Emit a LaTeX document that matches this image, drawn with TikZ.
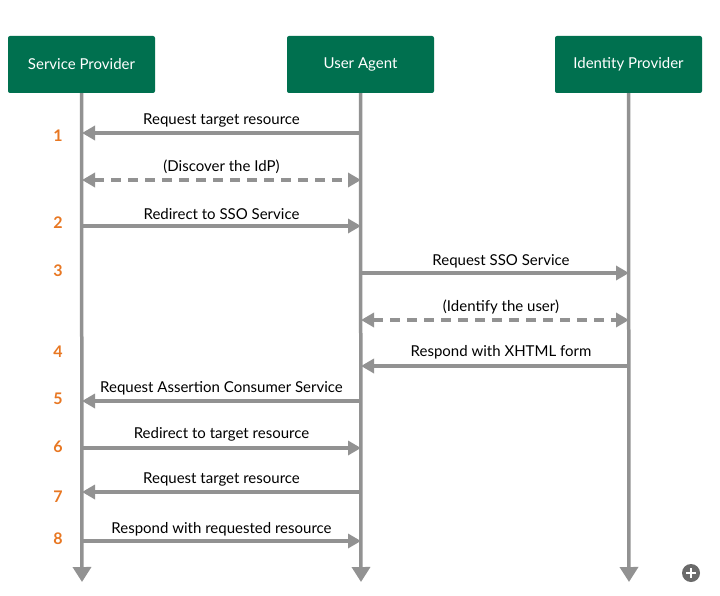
\documentclass[tikz,border=0pt]{standalone}
\usepackage{fontspec}
\setmainfont{Lato}
\usetikzlibrary{arrows.meta}
\definecolor{hdrgreen}{HTML}{00704F}
\definecolor{lifegray}{HTML}{929292}
\definecolor{numorange}{HTML}{E87722}
\definecolor{plusgray}{HTML}{6A6A6A}
\begin{document}
\begin{tikzpicture}[x=1pt,y=-1pt,
  hdr/.style={draw=none,fill=hdrgreen,rounded corners=2pt,minimum width=147pt,minimum height=57pt,text=white,font=\fontsize{15}{17}\selectfont,inner sep=0pt},
  life/.style={draw=lifegray,line width=3.5pt,-{Triangle[length=15pt,width=18pt]}},
  msg/.style={draw=lifegray,line width=3.5pt,-{Triangle[length=13pt,width=14pt]}},
  dmsg/.style={draw=lifegray,line width=3.5pt,{Triangle[length=13pt,width=14pt]}-{Triangle[length=13pt,width=14pt]},dash pattern=on 10pt off 7pt},
  lbl/.style={font=\fontsize{15}{17}\selectfont,text=black,inner sep=0pt},
  rlbl/.style={lbl,xshift=6pt},
  num/.style={font=\bfseries\fontsize{16}{18}\selectfont,text=numorange,inner sep=0pt}
]
\useasboundingbox (0,0) rectangle (720,596);
\fill[white] (0,0) rectangle (720,596);

\node[hdr] (sp) at (81.5,64.5) {Service Provider};
\node[hdr] (ua) at (360.5,64.5) {User Agent};
\node[hdr] (idp) at (628.5,64.5) {Identity Provider};

\coordinate (spend) at (82,582);
\coordinate (uaend) at (361,582);
\coordinate (idpend) at (629,582);
\draw[life] (sp.south) -- (spend);
\draw[life] (ua.south) -- (uaend);
\draw[life] (idp.south) -- (idpend);

% message coordinates
\foreach \n/\y in {1/133,2/180,3/226,4/273,5/320,6/366,7/401,8/448,9/492,10/541}{
  \coordinate (sp\n) at (82,\y);
  \coordinate (ua\n) at (361,\y);
  \coordinate (idp\n) at (629,\y);
}

\draw[msg] (ua1) -- (sp1) node[lbl,midway,above=4pt] (l1) {Request target resource};
\draw[dmsg] (sp2) -- (ua2) node[lbl,midway,above=5pt] (l2) {(Discover the IdP)};
\draw[msg] (sp3) -- (ua3) node[lbl,midway,above=5pt] (l3) {Redirect to SSO Service};
\draw[msg] (ua4) -- (idp4) node[rlbl,midway,above=3pt] (l4) {Request SSO Service};
\draw[dmsg] (ua5) -- (idp5) node[rlbl,midway,above=4pt] (l5) {(Identify the user)};
\draw[msg] (idp6) -- (ua6) node[rlbl,midway,above=5pt] (l6) {Respond with XHTML form};
\draw[msg] (ua7) -- (sp7) node[lbl,midway,above=4pt] (l7) {Request Assertion Consumer Service};
\draw[msg] (sp8) -- (ua8) node[lbl,midway,above=5pt] (l8) {Redirect to target resource};
\draw[msg] (ua9) -- (sp9) node[lbl,midway,above=4pt] (l9) {Request target resource};
\draw[msg] (sp10) -- (ua10) node[lbl,midway,above=3pt] (l10) {Respond with requested resource};

\node[num] (n1) at (58,136) {1};
\node[num] (n2) at (58,223) {2};
\node[num] (n3) at (58,271) {3};
\node[num] (n4) at (58,352) {4};
\node[num] (n5) at (58,399) {5};
\node[num] (n6) at (58,447) {6};
\node[num] (n7) at (58,497) {7};
\node[num] (n8) at (58,539) {8};

% plus icon
\node[circle,fill=plusgray,minimum size=18pt,inner sep=0pt] (plus) at (691,573) {};
\draw[white,line width=1.3pt] ([xshift=-5pt]plus.center) -- ([xshift=5pt]plus.center);
\draw[white,line width=1.3pt] ([yshift=-5pt]plus.center) -- ([yshift=5pt]plus.center);
\end{tikzpicture}
\end{document}
